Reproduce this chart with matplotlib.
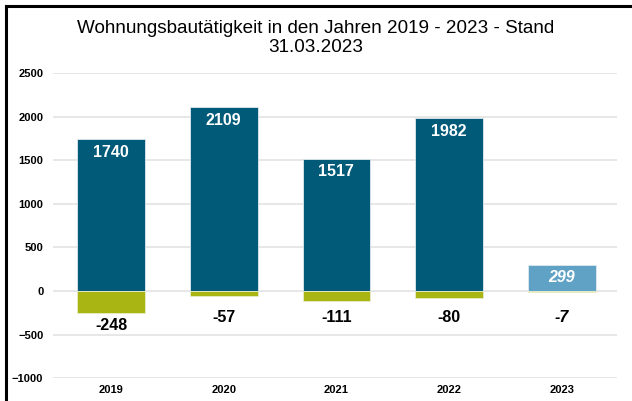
import matplotlib.pyplot as plt
from matplotlib.lines import Line2D

plt.rcParams['font.family'] = ['Liberation Sans', 'DejaVu Sans']

jahre = ['2019', '2020', '2021', '2022', '2023']
zugang = [1740, 2109, 1517, 1982, 299]
abgang = [-248, -57, -111, -80, -7]

dunkel = '#005a78'
hell = '#5fa2c6'
oliv = '#a9b512'

fig = plt.figure(figsize=(6.32, 4.01), dpi=100)
ax = fig.add_axes([0.084, 0.057, 0.892, 0.761])

x = range(len(jahre))
farben_pos = [dunkel] * 4 + [hell]
farben_neg = [oliv] * 4 + ['#c9cf8a']
ax.bar(x, zugang, width=0.6, color=farben_pos, edgecolor='#dfe9ee', linewidth=0.6, zorder=3)
ax.bar(x, abgang, width=0.6, color=farben_neg, edgecolor='#e8ecc8', linewidth=0.6, zorder=3)

for i in x:
    stil = 'italic' if jahre[i] == '2023' else 'normal'
    ax.text(i, zugang[i] - 150, str(zugang[i]), ha='center', va='center', color='white',
            fontsize=11.5, fontweight='bold', fontstyle=stil, zorder=4)
    ax.text(i, min(abgang[i] - 145, -310), str(abgang[i]), ha='center', va='center', color='black',
            fontsize=11.5, fontweight='bold', fontstyle=stil, zorder=4)

ax.set_ylim(-1000, 2500)
ax.set_xlim(-0.514, 4.488)
ax.set_yticks([-1000, -500, 0, 500, 1000, 1500, 2000, 2500])
ax.set_xticks(list(x))
ax.set_xticklabels(jahre)
ax.tick_params(axis='y', length=0, labelsize=8, pad=7)
ax.tick_params(axis='x', length=0, labelsize=8, pad=5)
for lab in ax.get_xticklabels() + ax.get_yticklabels():
    lab.set_fontweight('bold')
ax.grid(axis='y', color='#e3e3e3', linewidth=1.2, zorder=0)
for s in ax.spines.values():
    s.set_visible(False)

fig.text(0.5, 0.905, 'Wohnungsbautätigkeit in den Jahren 2019 - 2023 - Stand\n31.03.2023',
         ha='center', va='center', fontsize=13.6, linespacing=1.1)

# Rahmen oben und links
fig.add_artist(Line2D([0.009, 1.0], [0.986, 0.986], color='black', linewidth=2.2, transform=fig.transFigure))
fig.add_artist(Line2D([0.009, 0.009], [0.0, 0.986], color='black', linewidth=2.2, transform=fig.transFigure))

fig.savefig('out.png', dpi=100)
